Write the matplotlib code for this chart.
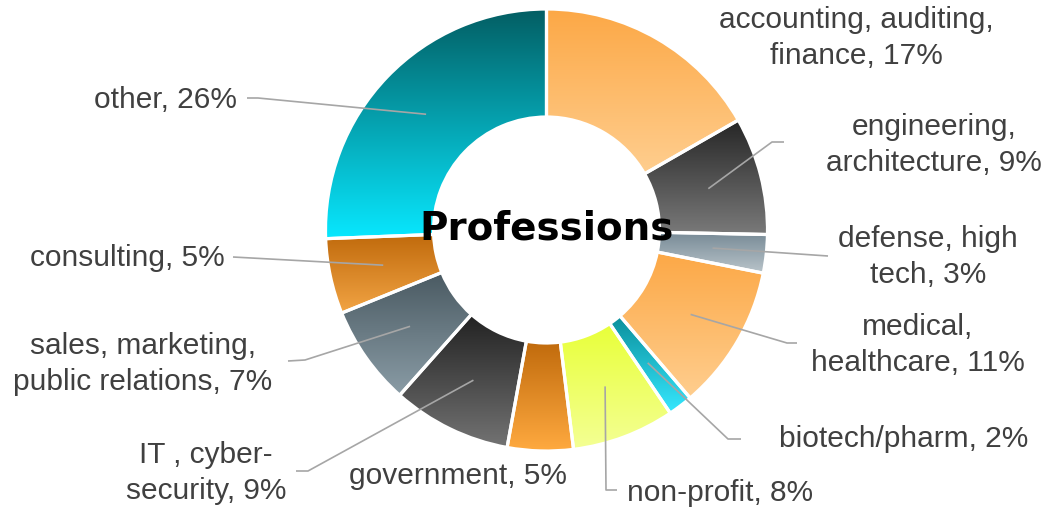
import numpy as np
import matplotlib
matplotlib.use("Agg")
import matplotlib.pyplot as plt
from matplotlib.colors import to_rgba

# data
labels = ["accounting, auditing,\nfinance, 17%", "engineering,\narchitecture, 9%",
          "defense, high\ntech, 3%", "medical,\nhealthcare, 11%", "biotech/pharm, 2%",
          "non-profit, 8%", "government, 5%", "IT , cyber-\nsecurity, 9%",
          "sales, marketing,\npublic relations, 7%", "consulting, 5%", "other, 26%"]
shares = [16.7, 8.6, 2.8, 10.6, 1.8, 7.5, 4.8, 8.7, 7.3, 5.5, 25.6]
top_colors = ["#FCA846", "#262626", "#778A96", "#FCA846", "#0B8F9B", "#E8FF38",
              "#C06A0C", "#222222", "#4A5A62", "#C06A0C", "#035E63"]
bottom_colors = ["#FFCE8F", "#7A7A7A", "#B9C4CA", "#FFCE8F", "#36E8FF", "#F4FF94",
                 "#FFAA40", "#737373", "#8A9CA6", "#F2A444", "#08E8FF"]

W, H = 1058, 508
fig = plt.figure(figsize=(W / 100, H / 100), dpi=100)
ax = fig.add_axes([0, 0, 1, 1])

cx, cy, R, ring = 546.5, H - 230, 221, 108
wedges, _ = ax.pie(shares, startangle=90, counterclock=False, radius=R, center=(cx, cy),
                   wedgeprops=dict(width=ring, edgecolor="white", linewidth=2.3))

# vertical gradient in each slice
for w, c0, c1 in zip(wedges, top_colors, bottom_colors):
    bb = w.get_path().get_extents()
    t = np.linspace(0, 1, 256)[:, None, None]
    img = (1 - t) * np.array(to_rgba(c0)) + t * np.array(to_rgba(c1))
    im = ax.imshow(img, extent=(bb.x0, bb.x1, bb.y0, bb.y1), origin="upper",
                   interpolation="bilinear", aspect="auto", zorder=0.5)
    im.set_clip_path(w)
    w.set_facecolor("none")
    w.set_zorder(1)

# label placement (pixel coords, y from top): text centre, then leader elbow / end
text_pos = [(856, 38), (934, 145), (928, 257), (918, 345), (904, 439), (720, 493),
            (458, 476), (206, 473), (143, 364), (127, 258), (165, 100)]
leaders = [None, ((772, 142), (784, 142)), ((828, 256), (828, 256)),
           ((787, 343), (797, 343)), ((728, 439), (741, 439)), ((606, 490), (617, 490)),
           None, ((308, 471), (296, 471)), ((305, 360), (288, 361)),
           ((233, 257), (233, 257)), ((258, 98), (247, 98))]

cum = np.cumsum([0] + shares[:-1])
tot = sum(shares)
rmid = R - ring / 2
for i, lab in enumerate(labels):
    tx, ty = text_pos[i]
    ax.text(tx, H - ty, lab, ha="center", va="center", multialignment="center",
            fontsize=21.5, color="#404040", family="Liberation Sans", linespacing=1.36)
    if leaders[i] is None:
        continue
    ang = np.deg2rad((cum[i] + shares[i] / 2) / tot * 360)
    sx, sy = cx + rmid * np.sin(ang), cy + rmid * np.cos(ang)
    (ex, ey), (fx, fy) = leaders[i]
    ax.plot([sx, ex, fx], [sy, H - ey, H - fy], color="#A6A6A6", lw=1.2, zorder=2,
            solid_capstyle="butt")

ax.text(cx, cy + 1, "Professions", ha="center", va="center", fontsize=28,
        family="DejaVu Sans", fontweight="bold", color="black", zorder=3)

ax.set_xlim(0, W)
ax.set_ylim(0, H)
ax.set_aspect("equal")
ax.axis("off")
fig.savefig("out.png", dpi=100)
